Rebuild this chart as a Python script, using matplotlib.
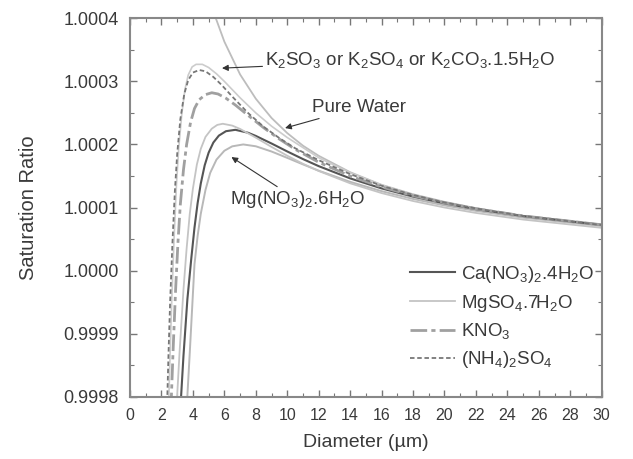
import matplotlib
matplotlib.use("Agg")
import matplotlib.pyplot as plt
from matplotlib.ticker import MultipleLocator, FormatStrFormatter

plt.rcParams['font.family'] = ['Liberation Sans', 'DejaVu Sans']
plt.rcParams['mathtext.fontset'] = 'custom'
plt.rcParams['mathtext.rm'] = 'Liberation Sans'
plt.rcParams['mathtext.it'] = 'Liberation Sans:italic'
plt.rcParams['mathtext.bf'] = 'Liberation Sans:bold'

# values are (S - 1) in units of 1e-4
water_d = [5.4, 6, 7, 8, 9, 10, 11, 12, 14, 16, 18, 20, 22, 25, 30]
water_v = [4.04, 3.63, 3.11, 2.725, 2.42, 2.18, 1.98, 1.82, 1.56, 1.36, 1.21, 1.09, 0.99, 0.87, 0.73]

k2so4_d = [2.45, 2.55, 2.65, 2.8, 2.95, 3.1, 3.3, 3.5, 3.7, 3.95, 4.2, 4.6, 5.0, 5.5, 6.0, 6.5, 7, 8, 9, 10, 11, 12, 14, 16, 18, 20, 22, 25, 30]
k2so4_v = [-2.2, -1.3, -0.5, 0.5, 1.35, 1.95, 2.5, 2.88, 3.1, 3.23, 3.27, 3.27, 3.22, 3.12, 3.0, 2.87, 2.74, 2.5, 2.29, 2.11, 1.95, 1.79, 1.55, 1.355, 1.205, 1.085, 0.988, 0.868, 0.724]

nh4_d = [2.35, 2.45, 2.55, 2.7, 2.85, 3.0, 3.2, 3.45, 3.7, 4.0, 4.4, 4.8, 5.3, 5.8, 6.5, 7.5, 8.5, 9.5, 10.5, 12, 14, 16, 18, 20, 22, 25, 30]
nh4_v = [-2.2, -1.3, -0.5, 0.45, 1.25, 1.85, 2.4, 2.8, 3.02, 3.14, 3.18, 3.16, 3.07, 2.95, 2.76, 2.5, 2.28, 2.1, 1.94, 1.75, 1.53, 1.345, 1.2, 1.08, 0.985, 0.865, 0.722]

kno3_d = [2.6, 2.75, 2.9, 3.05, 3.2, 3.4, 3.6, 3.85, 4.1, 4.4, 4.8, 5.2, 5.6, 6.1, 6.7, 7.5, 8.5, 9.5, 10.5, 12, 14, 16, 18, 20, 22, 25, 30]
kno3_v = [-2.2, -1.2, -0.3, 0.45, 1.05, 1.6, 2.0, 2.35, 2.57, 2.71, 2.79, 2.82, 2.8, 2.733, 2.625, 2.463, 2.265, 2.085, 1.924, 1.718, 1.499, 1.327, 1.188, 1.075, 0.981, 0.867, 0.726]

mgso4_d = [2.95, 3.15, 3.4, 3.6, 3.8, 4.0, 4.25, 4.5, 4.8, 5.2, 5.55, 5.9, 6.5, 7, 8, 9, 10, 11, 12, 14, 16, 18, 20, 22, 25, 30]
mgso4_v = [-2.2, -1.3, -0.3, 0.35, 0.9, 1.3, 1.68, 1.93, 2.12, 2.25, 2.31, 2.328, 2.299, 2.246, 2.108, 1.961, 1.821, 1.693, 1.579, 1.384, 1.229, 1.103, 1.0, 0.914, 0.809, 0.678]

cano3_d = [3.2, 3.4, 3.65, 3.9, 4.1, 4.3, 4.5, 4.75, 5.0, 5.3, 5.65, 6.1, 6.7, 7.5, 8, 9, 10, 11, 12, 14, 16, 18, 20, 22, 25, 30]
cano3_v = [-2.2, -1.35, -0.45, 0.2, 0.68, 1.07, 1.38, 1.67, 1.87, 2.03, 2.14, 2.21, 2.232, 2.186, 2.135, 2.015, 1.889, 1.768, 1.656, 1.462, 1.303, 1.173, 1.065, 0.974, 0.864, 0.725]

mgno3_d = [3.6, 3.8, 4.1, 4.3, 4.5, 4.8, 5.1, 5.5, 6.0, 6.5, 7.2, 8, 9, 10, 11, 12, 14, 16, 18, 20, 22, 25, 30]
mgno3_v = [-2.2, -1.3, 0.1, 0.55, 0.9, 1.28, 1.55, 1.76, 1.9, 1.97, 2.0, 1.971, 1.888, 1.787, 1.684, 1.584, 1.407, 1.259, 1.136, 1.033, 0.947, 0.84, 0.706]

legend_labels = [r"Ca(NO$_3$)$_2$.4H$_2$O", r"MgSO$_4$.7H$_2$O", r"KNO$_3$", r"(NH$_4$)$_2$SO$_4$"]


def ratio(v):
    return [1.0 + x * 1e-4 for x in v]


fig = plt.figure(figsize=(6.33, 4.59), dpi=100)
ax = fig.add_axes([0.2054, 0.1357, 0.7452, 0.8244])

ax.plot(water_d, ratio(water_v), color='#bdbdbd', lw=1.3)
ax.plot(k2so4_d, ratio(k2so4_v), color='#cccccc', lw=1.2)
ax.plot(mgno3_d, ratio(mgno3_v), color='#b8b8b8', lw=1.4)
l_ca, = ax.plot(cano3_d, ratio(cano3_v), color='#555555', lw=1.5, label=legend_labels[0])
l_mg, = ax.plot(mgso4_d, ratio(mgso4_v), color='#c4c4c4', lw=1.3, label=legend_labels[1])
l_k, = ax.plot(kno3_d, ratio(kno3_v), color='#a0a0a0', lw=2.0, ls=(0, (6, 1.5, 1.5, 1.5)), label=legend_labels[2])
l_nh, = ax.plot(nh4_d, ratio(nh4_v), color='#777777', lw=1.3, ls=(0, (2.5, 1.5)), label=legend_labels[3])

ax.set_xlim(0, 30)
ax.set_ylim(0.9998, 1.0004)
ax.xaxis.set_major_locator(MultipleLocator(2))
ax.xaxis.set_minor_locator(MultipleLocator(1))
ax.yaxis.set_major_locator(MultipleLocator(0.0001))
ax.yaxis.set_minor_locator(MultipleLocator(0.00005))
ax.yaxis.set_major_formatter(FormatStrFormatter('%.4f'))

txtc = '#3a3a3a'
ax.tick_params(which='both', direction='in', top=True, right=True, colors='#777777', labelcolor=txtc)
ax.tick_params(which='major', length=5, width=1.0)
ax.tick_params(which='minor', length=3, width=0.8)
ax.tick_params(axis='x', labelsize=11.5, pad=8)
ax.tick_params(axis='y', labelsize=13, pad=8)
for s in ax.spines.values():
    s.set_color('#888888')
    s.set_linewidth(1.5)

ax.set_xlabel('Diameter (µm)', fontsize=14, color=txtc, labelpad=8)
ax.set_ylabel('Saturation Ratio', fontsize=14.5, color=txtc, labelpad=18)

leg = ax.legend(handles=[l_ca, l_mg, l_k, l_nh], loc='lower right', bbox_to_anchor=(1.0, 0.05),
                frameon=False, fontsize=13.5, handlelength=2.4, handletextpad=0.3,
                labelspacing=0.42, borderaxespad=0.0)
for t in leg.get_texts():
    t.set_color(txtc)

arr = dict(arrowstyle='-|>', color='#333333', lw=0.8, mutation_scale=9, shrinkA=0, shrinkB=0)
ax.annotate(r"K$_2$SO$_3$ or K$_2$SO$_4$ or K$_2$CO$_3$.1.5H$_2$O", xy=(5.85, 1.000321), xytext=(8.6, 1.000334),
            fontsize=13.5, color=txtc, va='center', ha='left', arrowprops=arr)
ax.annotate("Pure Water", xy=(9.86, 1.000226), xytext=(11.6, 1.000259),
            fontsize=13.5, color=txtc, va='center', ha='left', arrowprops=arr)
ax.annotate(r"Mg(NO$_3$)$_2$.6H$_2$O", xy=(6.45, 1.000180), xytext=(6.36, 1.000112),
            fontsize=13.5, color=txtc, va='center', ha='left', arrowprops=arr)

fig.savefig('out.png', dpi=100)
